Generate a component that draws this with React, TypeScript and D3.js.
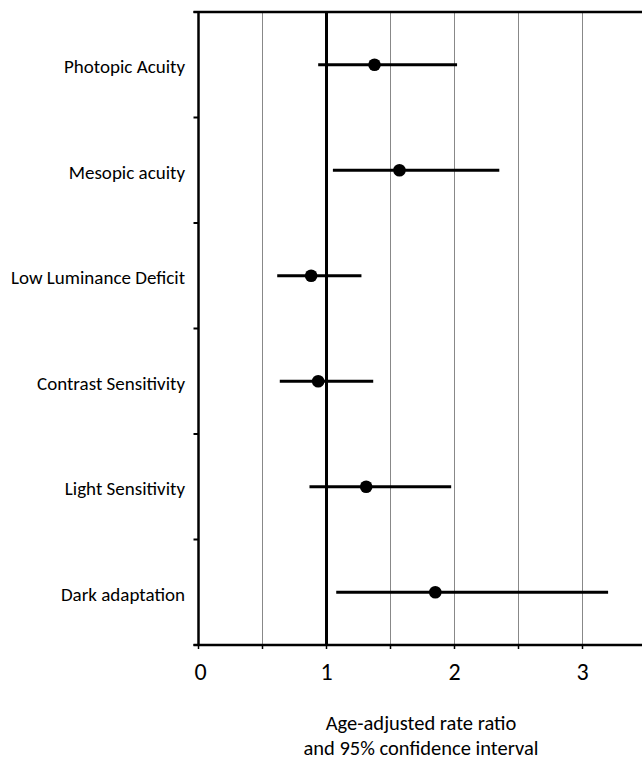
import React from "react";
import * as d3 from "d3";

const categories = [
  "Photopic Acuity",
  "Mesopic acuity",
  "Low Luminance Deficit",
  "Contrast Sensitivity",
  "Light Sensitivity",
  "Dark adaptation",
];
const estimates = [1.375, 1.57, 0.88, 0.935, 1.31, 1.85];
const lowerCI = [0.935, 1.05, 0.615, 0.635, 0.867, 1.076];
const upperCI = [2.02, 2.35, 1.273, 1.365, 1.974, 3.2];
const tickLabels = [0, 1, 2, 3];
const gridValues = [0.5, 1.5, 2, 2.5, 3];
const minorTicks = [0, 0.5, 1, 1.5, 2, 2.5, 3];

const W = 642, H = 761;
const margin = { top: 12, left: 198.5, bottom: 645 };
const FONT = "Carlito, 'Open Sans', sans-serif";

export default function App() {
  const x = d3.scaleLinear().domain([0, 3.5]).range([margin.left, margin.left + 448]);
  const y = d3.scaleBand().domain(categories).range([margin.top, margin.bottom]);
  const rows = categories.map((c, i) => ({ c, est: estimates[i], lo: lowerCI[i], hi: upperCI[i] }));
  const boundaries = d3.range(categories.length + 1).map(i => margin.top + i * y.bandwidth());

  return (
    <svg width={W} height={H} style={{ position: "absolute", left: 0, top: 0, background: "#fff" }}>
      {/* grid lines */}
      {gridValues.map(v => (
        <line key={v} x1={x(v)} x2={x(v)} y1={margin.top} y2={margin.bottom} stroke="#888" strokeWidth={1} />
      ))}
      {/* reference line at 1 */}
      <line x1={x(1)} x2={x(1)} y1={margin.top} y2={margin.bottom} stroke="#000" strokeWidth={3} />

      {/* top border */}
      <line x1={margin.left - 5} x2={W} y1={margin.top} y2={margin.top} stroke="#000" strokeWidth={2.5} />
      {/* left axis */}
      <line x1={margin.left} x2={margin.left} y1={margin.top} y2={margin.bottom} stroke="#000" strokeWidth={2.5} />
      {boundaries.map(b => (
        <line key={b} x1={margin.left - 5} x2={margin.left} y1={b} y2={b} stroke="#000" strokeWidth={2} />
      ))}
      {/* bottom axis */}
      <line x1={margin.left - 5} x2={W} y1={margin.bottom} y2={margin.bottom} stroke="#000" strokeWidth={2.5} />
      {minorTicks.map(v => (
        <line key={v} x1={x(v)} x2={x(v)} y1={margin.bottom} y2={margin.bottom + 4} stroke="#000" strokeWidth={1.5} />
      ))}
      {tickLabels.map(v => (
        <text key={v} x={x(v) + (v === 0 ? 2 : 0)} y={680} textAnchor="middle" fontFamily={FONT} fontSize={24} fill="#000">
          {v}
        </text>
      ))}

      {/* category labels */}
      {categories.map(c => (
        <text key={c} x={185} y={(y(c) as number) + y.bandwidth() / 2 + 8.5} textAnchor="end" fontFamily={FONT} fontSize={19} fill="#000">
          {c}
        </text>
      ))}

      {/* error bars and points */}
      {rows.map(r => {
        const cy = (y(r.c) as number) + y.bandwidth() / 2;
        return (
          <g key={r.c}>
            <line x1={x(r.lo)} x2={x(r.hi)} y1={cy} y2={cy} stroke="#000" strokeWidth={3} />
            <circle cx={x(r.est)} cy={cy} r={6.3} fill="#000" />
          </g>
        );
      })}

      {/* axis title */}
      <text x={421} y={729.5} textAnchor="middle" fontFamily={FONT} fontSize={20.5} fill="#000">Age-adjusted rate ratio</text>
      <text x={421} y={754.5} textAnchor="middle" fontFamily={FONT} fontSize={20.5} fill="#000">and 95% confidence interval</text>
    </svg>
  );
}
